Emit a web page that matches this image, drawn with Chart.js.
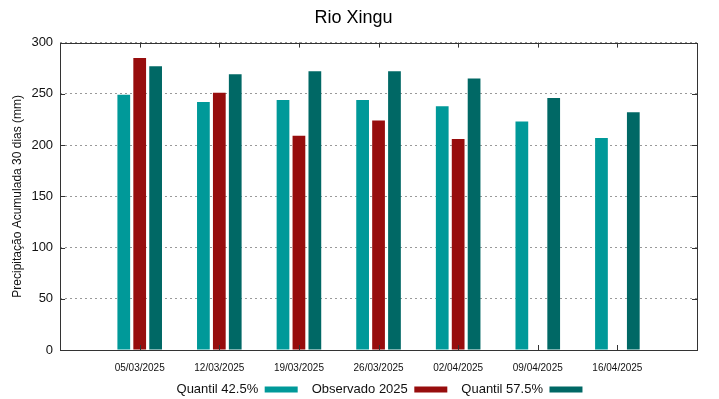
<!DOCTYPE html>
<html>
<head>
<meta charset="utf-8">
<script src="https://cdn.jsdelivr.net/npm/chart.js@4/dist/chart.umd.min.js"></script>
<style>
  html, body { margin: 0; padding: 0; background: #fff; }
  #wrap { width: 719px; height: 399px; position: relative; }
</style>
</head>
<body>
<div id="wrap"><canvas id="bar-chart"></canvas></div>
<script>
// data (mm)
var labels = ['', '05/03/2025', '12/03/2025', '19/03/2025', '26/03/2025', '02/04/2025', '09/04/2025', '16/04/2025', ''];
var quantil425 = [null, 249, 242, 244, 244, 238, 223, 207, null];
var observado = [null, 285, 251, 209, 224, 206, null, null, null];
var quantil575 = [null, 277, 269, 272, 272, 265, 246, 232, null];
var yTicks = [0, 50, 100, 150, 200, 250, 300];

// gnuplot-like frame with inward tick marks
var framePlugin = {
  id: 'frame',
  afterLayout: function(chart) {
    // legend sits a bit right of the canvas centre and tucked under the x labels
    chart.legend.left += 26;
    chart.legend.right += 26;
    chart.legend.top -= 9;
    chart.legend.bottom = chart.height;
  },
  afterDraw: function(chart) {
    var ctx = chart.ctx, a = chart.chartArea;
    var xs = chart.scales.x, ys = chart.scales.y;
    ctx.save();
    ctx.strokeStyle = '#333';
    ctx.lineWidth = 1;
    ctx.strokeRect(Math.round(a.left) + 0.5, Math.round(a.top) + 0.5,
                   Math.round(a.right - a.left), Math.round(a.bottom - a.top));
    ctx.beginPath();
    for (var i = 1; i < labels.length - 1; i++) {
      var x = Math.round(xs.getPixelForTick(i)) + 0.5;
      ctx.moveTo(x, a.top); ctx.lineTo(x, a.top + 5);
      ctx.moveTo(x, a.bottom); ctx.lineTo(x, a.bottom - 5);
    }
    yTicks.forEach(function(v) {
      var y = Math.round(ys.getPixelForValue(v)) + 0.5;
      ctx.moveTo(a.left, y); ctx.lineTo(a.left + 5, y);
      ctx.moveTo(a.right, y); ctx.lineTo(a.right - 5, y);
    });
    ctx.stroke();
    ctx.restore();
  }
};

Chart.defaults.font.family = '"Liberation Sans", Arial, sans-serif';
Chart.defaults.color = '#111';

new Chart(document.getElementById('bar-chart'), {
  type: 'bar',
  data: {
    labels: labels,
    datasets: [
      { label: 'Quantil 42.5%', backgroundColor: '#009999', data: quantil425 },
      { label: 'Observado 2025', backgroundColor: '#970d0d', data: observado },
      { label: 'Quantil 57.5%', backgroundColor: '#006865', data: quantil575 }
    ]
  },
  options: {
    responsive: true,
    maintainAspectRatio: false,
    animation: false,
    layout: { padding: { left: 10, right: 22, top: 7, bottom: 0 } },
    datasets: { bar: { categoryPercentage: 0.6, barPercentage: 0.8, borderWidth: 0 } },
    plugins: {
      title: {
        display: true,
        text: 'Rio Xingu',
        font: { size: 18, weight: 'normal' },
        color: '#000',
        padding: { top: 0, bottom: 14 }
      },
      legend: {
        position: 'bottom',
        rtl: true,
        reverse: true,
        maxHeight: 21,
        labels: {
          boxWidth: 33,
          boxHeight: 6,
          padding: 14,
          font: { size: 13 },
          color: '#111'
        }
      },
      tooltip: { enabled: false }
    },
    scales: {
      x: {
        offset: false,
        grid: { display: false },
        border: { display: false },
        ticks: { autoSkip: false, maxRotation: 0, font: { size: 10 }, padding: 4, color: '#111' }
      },
      y: {
        min: 0,
        max: 300,
        ticks: { stepSize: 50, font: { size: 13 }, padding: 7, color: '#111' },
        grid: { color: '#999', tickLength: 0, drawTicks: false },
        border: { display: false, dash: [2, 3] },
        title: {
          display: true,
          text: 'Precipitação Acumulada 30 dias (mm)',
          font: { size: 12 },
          padding: { top: 0, bottom: 0 },
          color: '#111'
        }
      }
    }
  },
  plugins: [framePlugin]
});
</script>
</body>
</html>
